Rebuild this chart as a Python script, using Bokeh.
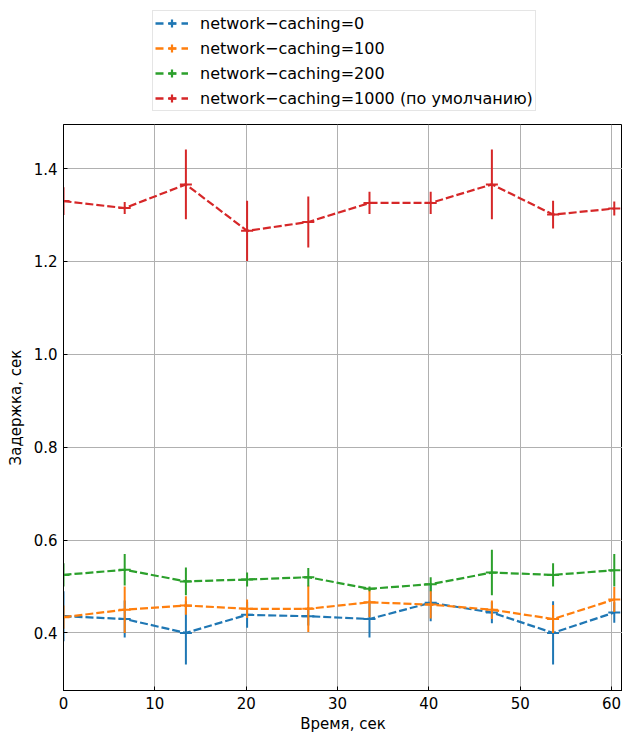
from bokeh.plotting import figure
from bokeh.layouts import column
from bokeh.models import Legend, LegendItem, FixedTicker, PrintfTickFormatter, Range1d
from bokeh.embed import file_html
from bokeh.resources import INLINE

# ---- data ----
time_s = [0, 6.7, 13.4, 20.1, 26.8, 33.5, 40.2, 46.9, 53.6, 60.3]

delay_0 = [0.436, 0.430, 0.400, 0.439, 0.436, 0.430, 0.465, 0.444, 0.400, 0.444]
err_0 = [0.054, 0.040, 0.068, 0.028, 0.020, 0.040, 0.040, 0.023, 0.068, 0.022]

delay_100 = [0.434, 0.450, 0.459, 0.452, 0.452, 0.466, 0.461, 0.450, 0.430, 0.472]
err_100 = [0.025, 0.050, 0.020, 0.020, 0.050, 0.032, 0.030, 0.020, 0.030, 0.027]

delay_200 = [0.525, 0.536, 0.511, 0.515, 0.520, 0.495, 0.505, 0.530, 0.525, 0.535]
err_200 = [0.025, 0.034, 0.030, 0.015, 0.020, 0.005, 0.015, 0.049, 0.025, 0.035]

delay_1000 = [1.330, 1.315, 1.366, 1.266, 1.285, 1.326, 1.326, 1.366, 1.301, 1.314]
err_1000 = [0.030, 0.013, 0.075, 0.065, 0.055, 0.024, 0.024, 0.075, 0.030, 0.015]

labels = ["network\u2212caching=0", "network\u2212caching=100",
          "network\u2212caching=200", "network\u2212caching=1000 (по умолчанию)"]
colors = ["#1f77b4", "#ff7f0e", "#2ca02c", "#d62728"]
x_ticks = [0, 10, 20, 30, 40, 50, 60]
y_ticks = [0.4, 0.6, 0.8, 1.0, 1.2, 1.4]

FONT = "DejaVu Sans"
FS = "15px"

# ---- legend strip above the chart ----
top = figure(width=622, height=124, output_backend="svg", toolbar_location=None,
             x_range=Range1d(0, 1), y_range=Range1d(0, 1),
             x_axis_location=None, y_axis_location=None,
             min_border_left=0, min_border_right=0, min_border_top=0, min_border_bottom=0)
top.grid.visible = False
top.outline_line_color = None
top.background_fill_color = "white"
top.border_fill_color = "white"

# ---- main chart ----
p = figure(width=622, height=611, output_backend="svg", toolbar_location=None,
           x_range=Range1d(0, 61.2), y_range=Range1d(0.276, 1.495),
           min_border_left=63, min_border_right=0, min_border_top=0, min_border_bottom=44)

p.outline_line_color = "black"
p.outline_line_width = 1
p.background_fill_color = "white"
p.border_fill_color = "white"

for ax in (p.xaxis[0], p.yaxis[0]):
    ax.axis_line_color = "black"
    ax.axis_line_width = 1
    ax.major_tick_in = 4
    ax.major_tick_out = 0
    ax.major_tick_line_color = "black"
    ax.minor_tick_line_color = None
    ax.major_label_text_font = FONT
    ax.major_label_text_font_size = FS
    ax.major_label_text_color = "black"
    ax.axis_label_text_font = FONT
    ax.axis_label_text_font_size = FS
    ax.axis_label_text_font_style = "normal"
    ax.axis_label_text_color = "black"

p.xaxis.ticker = FixedTicker(ticks=x_ticks)
p.yaxis.ticker = FixedTicker(ticks=y_ticks)
p.yaxis.formatter = PrintfTickFormatter(format="%.1f")
p.xaxis.axis_label = "Время, сек"
p.yaxis.axis_label = "Задержка, сек"
p.xaxis.major_label_standoff = 6
p.yaxis.major_label_standoff = 6
p.xaxis.axis_label_standoff = 3
p.yaxis.axis_label_standoff = 6

p.grid.grid_line_color = "#b0b0b0"
p.grid.grid_line_width = 1

series = [(delay_0, err_0), (delay_100, err_100), (delay_200, err_200), (delay_1000, err_1000)]
items = []
for (vals, errs), color, lab in zip(series, colors, labels):
    lo = [v - e for v, e in zip(vals, errs)]
    hi = [v + e for v, e in zip(vals, errs)]
    p.line(time_s, vals, line_color=color, line_width=2.2, line_dash="8 3")
    p.segment(x0=time_s, y0=lo, x1=time_s, y1=hi, line_color=color, line_width=2)
    p.scatter(time_s, vals, marker="dash", size=12, line_color=color, line_width=2)
    # off-screen proxies so the legend can draw its "-+-" glyphs
    lg_line = top.line([-10, -9], [-10, -10], line_color=color, line_width=2.4, line_dash="8 5")
    lg_mark = top.scatter([-10], [-10], marker="cross", size=18, line_color=color, line_width=2.2)
    items.append(LegendItem(label=lab, renderers=[lg_line, lg_mark]))

legend = Legend(items=items, location=(89, 13), orientation="vertical")
legend.border_line_color = "#cccccc"
legend.border_line_width = 1
legend.background_fill_alpha = 0.8
legend.label_text_font = FONT
legend.label_text_font_size = "16px"
legend.label_text_color = "black"
legend.glyph_width = 33
legend.glyph_height = 20
legend.label_height = 17
legend.label_standoff = 12
legend.spacing = 5
legend.padding = 2
legend.margin = 0
top.add_layout(legend)

layout = column(top, p, spacing=0)
open("out.html", "w").write(file_html(layout, INLINE))
